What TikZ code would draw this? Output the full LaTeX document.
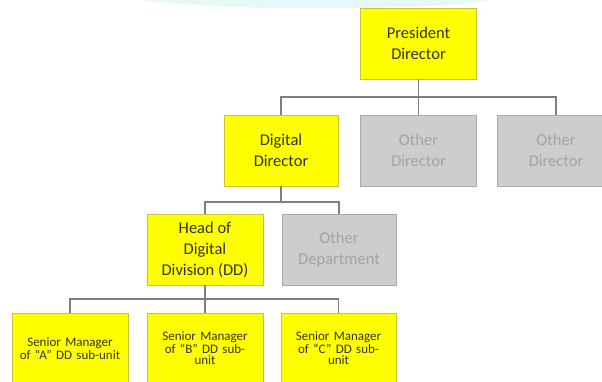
\documentclass[tikz,border=0pt]{standalone}
\usepackage{fontspec}
\setmainfont{Carlito}
\definecolor{boxyellow}{HTML}{FFFF00}
\definecolor{yellowedge}{HTML}{C9C23A}
\definecolor{boxgray}{HTML}{CDCDCD}
\definecolor{grayedge}{HTML}{A9A9A9}
\definecolor{graytext}{HTML}{A3A3A3}
\definecolor{darktext}{HTML}{33330A}
\definecolor{linegray}{HTML}{7F7F7F}
\definecolor{faintcyan}{HTML}{E6F8F8}
\begin{document}
\begin{tikzpicture}[x=1pt,y=1pt,
  ybox/.style={draw=yellowedge, line width=0.9pt, fill=boxyellow, text=darktext,
    minimum width=116pt, minimum height=71pt, align=center, inner sep=2pt,
    font=\fontsize{16.5}{21}\selectfont},
  gbox/.style={draw=grayedge, line width=0.9pt, fill=boxgray, text=graytext,
    minimum width=116pt, minimum height=71pt, align=center, inner sep=2pt,
    font=\fontsize{16.5}{21}\selectfont},
  sbox/.style={ybox, font=\fontsize{13}{11.5}\selectfont, text width=108pt},
  conn/.style={draw=linegray, line width=1.3pt}
]
\useasboundingbox (0,0) rectangle (602,381);
\clip (0,0) rectangle (602,381);
\fill[white] (0,0) rectangle (602,381);
\fill[faintcyan] (140,381) .. controls (220,370) and (420,370) .. (490,381) -- cycle;

% nodes (y = 381 - pixel y)
\node[ybox] (pres) at (418.5,337.5) {President\\Director};
\node[ybox, minimum width=114pt] (dig) at (281,230.5) {Digital\\Director};
\node[gbox] (od1) at (418.5,230.5) {Other\\Director};
\node[gbox, minimum width=118pt] (od2) at (556,230.5) {Other\\Director};
\node[ybox] (head) at (205,131.5) {Head of\\Digital\\Division (DD)};
\node[gbox, minimum width=114pt] (odep) at (339,131.5) {Other\\Department};
\node[sbox] (sa) at (70,32.5) {Senior Manager\\of “A” DD sub-unit};
\node[sbox] (sb) at (205,32.5) {Senior Manager\\of “B” DD sub-\\unit};
\node[sbox, minimum width=115pt] (sc) at (338.5,32.5) {Senior Manager\\of “C” DD sub-\\unit};

\coordinate (bus1) at (0,284);
\coordinate (bus2) at (0,179);
\coordinate (bus3) at (0,82);

% connectors
\draw[conn] (pres.south) -- (od1.north);
\draw[conn] (pres.south |- bus1) -| (dig.north);
\draw[conn] (pres.south |- bus1) -| (od2.north);
\draw[conn] (dig.south) -- (dig.south |- bus2) -| (head.north);
\draw[conn] (dig.south |- bus2) -| (odep.north);
\draw[conn] (head.south) -- (sb.north);
\draw[conn] (head.south |- bus3) -| (sa.north);
\draw[conn] (head.south |- bus3) -| (sc.north);
\end{tikzpicture}
\end{document}
